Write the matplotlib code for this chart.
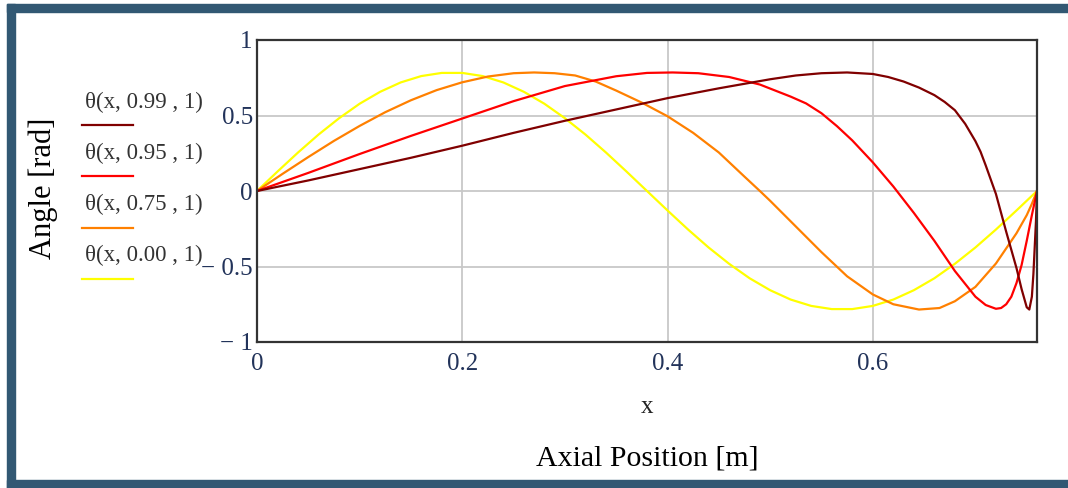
"""Mathcad-style plot of theta(x, e, 1) along the axial position for four e values."""
import matplotlib
matplotlib.use("Agg")
import matplotlib.pyplot as plt
from matplotlib.lines import Line2D
from matplotlib.patches import Rectangle

plt.rcParams["font.family"] = ["Liberation Serif", "DejaVu Serif"]

W, H = 1068, 488

# values (x in m, angle in rad)
x_099 = [0, 0.05, 0.10, 0.15, 0.20, 0.25, 0.30, 0.35, 0.40, 0.45, 0.50, 0.525, 0.55,
         0.575, 0.60, 0.615, 0.63, 0.645, 0.66, 0.67, 0.68, 0.69, 0.70, 0.705, 0.71,
         0.715, 0.72, 0.725, 0.73, 0.735, 0.74, 0.745, 0.75, 0.7525, 0.755, 0.7565,
         0.759, 0.76]
y_099 = [0, 0.07, 0.145, 0.22, 0.30, 0.385, 0.465, 0.54, 0.615, 0.68, 0.74, 0.765, 0.78,
         0.785, 0.775, 0.755, 0.725, 0.685, 0.635, 0.59, 0.535, 0.445, 0.33, 0.26, 0.17,
         0.075, -0.02, -0.145, -0.27, -0.39, -0.51, -0.65, -0.77, -0.785, -0.70, -0.55,
         -0.20, 0]

x_095 = [0, 0.05, 0.10, 0.15, 0.20, 0.25, 0.30, 0.35, 0.38, 0.405, 0.43, 0.46, 0.49,
         0.52, 0.535, 0.55, 0.565, 0.58, 0.60, 0.62, 0.64, 0.66, 0.68, 0.70, 0.71, 0.72,
         0.725, 0.73, 0.735, 0.74, 0.745, 0.75, 0.755, 0.76]
y_095 = [0, 0.12, 0.245, 0.365, 0.48, 0.595, 0.695, 0.76, 0.782, 0.785, 0.78, 0.755,
         0.705, 0.625, 0.58, 0.515, 0.43, 0.335, 0.19, 0.03, -0.145, -0.33, -0.53, -0.70,
         -0.755, -0.78, -0.775, -0.75, -0.70, -0.61, -0.49, -0.33, -0.16, 0]

x_075 = [0, 0.025, 0.05, 0.075, 0.10, 0.125, 0.15, 0.175, 0.20, 0.225, 0.25, 0.27, 0.29,
         0.31, 0.33, 0.35, 0.375, 0.40, 0.425, 0.45, 0.475, 0.49, 0.50, 0.525, 0.55,
         0.575, 0.60, 0.62, 0.645, 0.665, 0.68, 0.70, 0.72, 0.74, 0.75, 0.755, 0.76]
y_075 = [0, 0.114, 0.225, 0.332, 0.431, 0.522, 0.601, 0.668, 0.72, 0.758, 0.78, 0.785,
         0.78, 0.765, 0.725, 0.665, 0.585, 0.495, 0.385, 0.255, 0.095, 0.0, -0.065,
         -0.235, -0.405, -0.565, -0.685, -0.75, -0.785, -0.775, -0.73, -0.635, -0.48,
         -0.28, -0.16, -0.085, 0]

x_000 = [0, 0.02, 0.04, 0.06, 0.08, 0.10, 0.12, 0.14, 0.16, 0.18, 0.20, 0.22, 0.24, 0.26,
         0.28, 0.30, 0.32, 0.34, 0.36, 0.38, 0.40, 0.42, 0.44, 0.46, 0.48, 0.50, 0.52,
         0.54, 0.56, 0.58, 0.60, 0.62, 0.64, 0.66, 0.68, 0.70, 0.72, 0.74, 0.76]
y_000 = [0, 0.129, 0.255, 0.374, 0.482, 0.578, 0.657, 0.719, 0.761, 0.782, 0.782, 0.761,
         0.719, 0.657, 0.578, 0.482, 0.374, 0.255, 0.129, 0, -0.129, -0.255, -0.374,
         -0.482, -0.578, -0.657, -0.719, -0.761, -0.782, -0.782, -0.761, -0.719, -0.657,
         -0.578, -0.482, -0.374, -0.255, -0.129, 0]

LABELS = ["θ(x, 0.99 , 1)", "θ(x, 0.95 , 1)", "θ(x, 0.75 , 1)", "θ(x, 0.00 , 1)"]
COLORS = ["#800000", "#ff0000", "#ff8000", "#ffff00"]
SERIES = [(x_099, y_099), (x_095, y_095), (x_075, y_075), (x_000, y_000)]

fig = plt.figure(figsize=(W / 100, H / 100), dpi=100)
fig.patch.set_facecolor("white")

# dark slate frame (top, left, bottom; right side is cut off)
frame = "#325873"
for rx, ry, rw, rh in [(7, 4, W - 7, 8), (7, 4, 8, H - 4), (7, H - 8, W - 7, 8)]:
    fig.patches.append(Rectangle((rx / W, 1 - (ry + rh) / H), rw / W, rh / H,
                                 transform=fig.transFigure, color=frame, zorder=0))

ax = fig.add_axes([257 / W, 1 - 342 / H, 780 / W, 302 / H])
for (xs, ys), c in reversed(list(zip(SERIES, COLORS))):
    ax.plot(xs, ys, color=c, lw=1.6)

ax.set_xlim(0, 0.76)
ax.set_ylim(-1, 1)
ax.set_xticks([0, 0.2, 0.4, 0.6])
ax.set_xticklabels(["0", "0.2", "0.4", "0.6"])
ax.set_yticks([-1, -0.5, 0, 0.5, 1])
ax.set_yticklabels(["− 1", "− 0.5", "0", "0.5", "1"])
ax.tick_params(length=0, labelsize=18, labelcolor="#22335a")
ax.tick_params(axis="x", pad=8)
ax.tick_params(axis="y", pad=3)
ax.grid(True, color="#c8c8c8", lw=1.3)
for s in ax.spines.values():
    s.set_color("#333333")
    s.set_linewidth(1.6)

cx = (257 + 1037) / 2 / W
fig.text(cx, 1 - 407 / H, "x", ha="center", va="center", fontsize=18, color="#222222")
fig.text(cx, 1 - 458 / H, "Axial Position [m]", ha="center", va="center",
         fontsize=21.5, color="black")
fig.text(43 / W, 1 - 188 / H, "Angle [rad]", ha="center", va="center",
         rotation=90, fontsize=22, color="black")

# Mathcad-style legend: label above a short coloured line
for i, (lab, c) in enumerate(zip(LABELS, COLORS)):
    ty = 102 + i * 51.3
    fig.text(85 / W, 1 - ty / H, lab, ha="left", va="center", fontsize=16.5,
             color="#333333")
    ly = 1 - (ty + 23) / H
    fig.add_artist(Line2D([82 / W, 133 / W], [ly, ly], color=c, lw=1.6,
                          transform=fig.transFigure))

fig.savefig("out.png", dpi=100)
